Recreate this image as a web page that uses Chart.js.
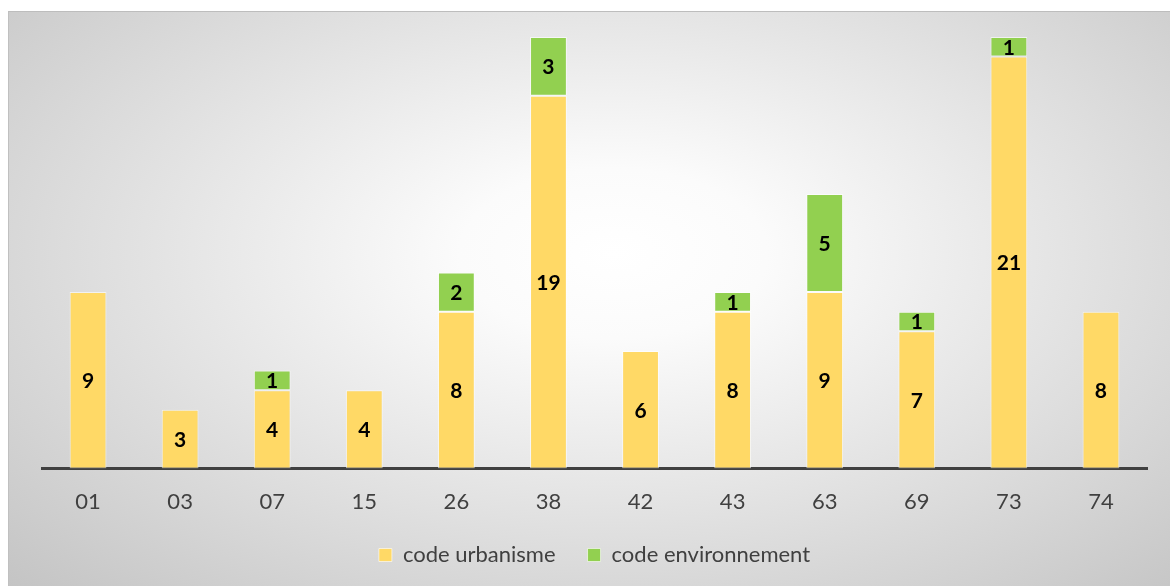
<!DOCTYPE html>
<html>
<head>
<meta charset="utf-8">
<style>
  body { margin: 0; background: #fff; }
  #bg {
    position: absolute; left: 8px; top: 11px; width: 1162px; height: 575px;
    background: radial-gradient(ellipse farthest-corner at 52% 42%, #ffffff 0%, #fbfbfb 18%, #c4c4c4 100%);
    border-top: 1px solid #bdbdbd; border-left: 1px solid #c0c0c0;
  }
  #myChart { position: absolute; left: 0; top: 0; }
</style>
</head>
<body>
<div id="bg"></div>
<canvas id="myChart" width="1170" height="586"></canvas>

<script src="https://cdn.jsdelivr.net/npm/chart.js"></script>
<script>
let departements = ['01', '03', '07', '15', '26', '38', '42', '43', '63', '69', '73', '74'];
let codeUrbanisme = [9, 3, 4, 4, 8, 19, 6, 8, 9, 7, 21, 8];
let codeEnvironnement = [null, null, 1, null, 2, 3, null, 1, 5, 1, 1, null];

// labels inside each bar segment, like excel data labels
let segmentLabels = {
  id: 'segmentLabels',
  afterDatasetsDraw(chart) {
    let ctx = chart.ctx;
    ctx.save();
    ctx.font = 'bold 21px Lato, "Liberation Sans", sans-serif';
    ctx.fillStyle = '#000';
    ctx.textAlign = 'center';
    ctx.textBaseline = 'middle';
    chart.data.datasets.forEach((ds, i) => {
      chart.getDatasetMeta(i).data.forEach((bar, j) => {
        let v = ds.data[j];
        if (!v) return;
        ctx.fillText(v, bar.x, (bar.y + bar.base) / 2 + 1);
      });
    });
    ctx.restore();
  }
};

let ctx = document.getElementById('myChart').getContext('2d');
let chart = new Chart(ctx, {
  type: 'bar',
  data: {
    labels: departements,
    datasets: [{
      label: 'code urbanisme',
      data: codeUrbanisme,
      backgroundColor: '#FFD966',
      borderColor: 'rgba(255,255,255,0.6)',
      borderWidth: 1,
      borderSkipped: false
    }, {
      label: 'code environnement',
      data: codeEnvironnement,
      backgroundColor: '#92D050',
      borderColor: 'rgba(255,255,255,0.6)',
      borderWidth: 1,
      borderSkipped: false
    }]
  },
  options: {
    responsive: false,
    animation: false,
    barPercentage: 0.4,
    categoryPercentage: 1,
    layout: { padding: { left: 42, right: 23, top: 37, bottom: 10 } },
    plugins: {
      tooltip: { enabled: false },
      legend: {
        position: 'bottom',
        labels: {
          color: '#404040',
          font: { size: 22, family: 'Lato, "Liberation Sans", sans-serif' },
          boxWidth: 13,
          boxHeight: 13,
          padding: 32
        }
      }
    },
    scales: {
      x: {
        stacked: true,
        grid: { display: false, drawTicks: false },
        border: { color: '#404040', width: 3 },
        ticks: {
          color: '#404040',
          padding: 20,
          font: { size: 22, family: 'Lato, "Liberation Sans", sans-serif' }
        },
        afterFit: (scale) => { scale.height -= 23; }
      },
      y: {
        stacked: true,
        display: false,
        min: 0,
        max: 22
      }
    }
  },
  plugins: [segmentLabels]
});
</script>

</body>
</html>
